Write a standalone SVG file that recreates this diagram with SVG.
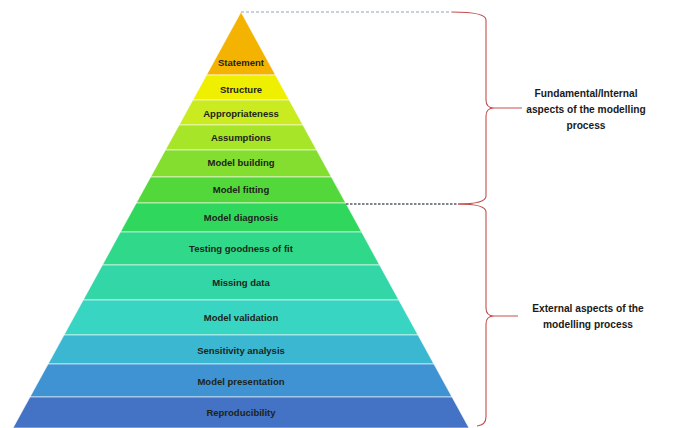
<svg xmlns="http://www.w3.org/2000/svg" width="682" height="428" viewBox="0 0 682 428">
<style>
.band{stroke:#ffffff;stroke-opacity:0.6;stroke-width:1}
.lbl{font-family:"Liberation Sans",Arial,sans-serif;font-weight:bold;font-size:9.5px;fill:#1d2419;text-anchor:middle}
.side{font-family:"Liberation Sans",Arial,sans-serif;font-weight:bold;font-size:10.2px;fill:#1a1a1a;text-anchor:middle}
.brace{fill:none;stroke:#c0504d;stroke-width:1.1}
</style>
<rect width="682" height="428" fill="#ffffff"/>
<g id="statement"><polygon class="band" points="241,12 275.5,75 206.5,75" fill="#f4b300"/><text class="lbl" x="241" y="65.5">Statement</text></g>
<g id="structure"><polygon class="band" points="206.5,75 275.5,75 289.2,100 192.8,100" fill="#eef000"/><text class="lbl" x="241" y="92.5">Structure</text></g>
<g id="appropriateness"><polygon class="band" points="192.8,100 289.2,100 302.9,125 179.1,125" fill="#c9eb1f"/><text class="lbl" x="241" y="116.5">Appropriateness</text></g>
<g id="assumptions"><polygon class="band" points="179.1,125 302.9,125 316.6,150 165.4,150" fill="#a7e528"/><text class="lbl" x="241" y="140.5">Assumptions</text></g>
<g id="model-building"><polygon class="band" points="165.4,150 316.6,150 331.4,177 150.6,177" fill="#84de30"/><text class="lbl" x="241" y="166">Model building</text></g>
<g id="model-fitting"><polygon class="band" points="150.6,177 331.4,177 345.7,203 136.3,203" fill="#52d83a"/><text class="lbl" x="241" y="192.5">Model fitting</text></g>
<g id="model-diagnosis"><polygon class="band" points="136.3,203 345.7,203 361.6,232 120.4,232" fill="#2fd85c"/><text class="lbl" x="241" y="220.5">Model diagnosis</text></g>
<g id="testing-goodness"><polygon class="band" points="120.4,232 361.6,232 379.6,265 102.4,265" fill="#30d88a"/><text class="lbl" x="241" y="251.5">Testing goodness of fit</text></g>
<g id="missing-data"><polygon class="band" points="102.4,265 379.6,265 398.8,300 83.2,300" fill="#33d6a6"/><text class="lbl" x="241" y="285.5">Missing data</text></g>
<g id="model-validation"><polygon class="band" points="83.2,300 398.8,300 418,335 64,335" fill="#38d5c2"/><text class="lbl" x="241" y="320.5">Model validation</text></g>
<g id="sensitivity-analysis"><polygon class="band" points="64,335 418,335 433.9,364 48.1,364" fill="#3bb7d2"/><text class="lbl" x="241" y="353.5">Sensitivity analysis</text></g>
<g id="model-presentation"><polygon class="band" points="48.1,364 433.9,364 452,397 30,397" fill="#3f93d2"/><text class="lbl" x="241" y="384.5">Model presentation</text></g>
<g id="reproducibility"><polygon class="band" points="30,397 452,397 469,428 13,428" fill="#4472c4"/><text class="lbl" x="241" y="415.5">Reproducibility</text></g>
<g id="connectors">
<line x1="241" y1="12" x2="452" y2="12" stroke="#8fa5c0" stroke-width="1.2" stroke-dasharray="3,2"/>
<line x1="346" y1="204" x2="458" y2="204" stroke="#555d66" stroke-width="1.3" stroke-dasharray="2.5,1.5"/>
<path class="brace" d="M452,12 Q486,12 486,20 L486,100 Q486,108 494,108 L522,108 M494,108 Q486,108 486,116 L486,196 Q486,204 458,204"/>
<path class="brace" d="M458,204 Q486,204 486,212 L486,308 Q486,316 494,316 L518,316 M494,316 Q486,316 486,324 L486,417 Q486,425 477,426"/>
</g>
<g id="internal-label">
<text class="side" x="586" y="97">Fundamental/Internal</text>
<text class="side" x="586" y="113">aspects of the modelling</text>
<text class="side" x="586" y="129">process</text>
</g>
<g id="external-label">
<text class="side" x="588" y="312">External aspects of the</text>
<text class="side" x="588" y="328">modelling process</text>
</g>
</svg>
